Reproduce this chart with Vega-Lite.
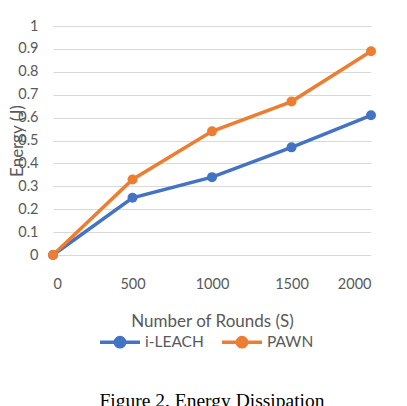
{
  "$schema": "https://vega.github.io/schema/vega-lite/v6.json",
  "width": 318,
  "height": 229,
  "autosize": "none",
  "padding": {"left": 53, "top": 26, "right": 36, "bottom": 151},
  "background": "white",
  "title": {
    "text": "Figure 2. Energy Dissipation",
    "orient": "bottom",
    "font": "Liberation Serif",
    "fontSize": 19.5,
    "fontWeight": "normal",
    "color": "black",
    "anchor": "middle",
    "baseline": "top",
    "offset": 38
  },
  "data": {
    "values": [
      {"rounds": 0, "energy": 0, "series": "i-LEACH"},
      {"rounds": 500, "energy": 0.25, "series": "i-LEACH"},
      {"rounds": 1000, "energy": 0.34, "series": "i-LEACH"},
      {"rounds": 1500, "energy": 0.47, "series": "i-LEACH"},
      {"rounds": 2000, "energy": 0.61, "series": "i-LEACH"},
      {"rounds": 0, "energy": 0, "series": "PAWN"},
      {"rounds": 500, "energy": 0.33, "series": "PAWN"},
      {"rounds": 1000, "energy": 0.54, "series": "PAWN"},
      {"rounds": 1500, "energy": 0.67, "series": "PAWN"},
      {"rounds": 2000, "energy": 0.89, "series": "PAWN"}
    ]
  },
  "mark": {"type": "line", "strokeWidth": 3.5, "point": {"size": 100, "filled": true}},
  "encoding": {
    "x": {
      "field": "rounds",
      "type": "quantitative",
      "title": "Number of Rounds (S)",
      "scale": {"domain": [0, 2000], "nice": false},
      "axis": {
        "values": [0, 500, 1000, 1500, 2000],
        "format": "d",
        "grid": false,
        "domain": false,
        "ticks": false,
        "labelPadding": 22,
        "titlePadding": 23
      }
    },
    "y": {
      "field": "energy",
      "type": "quantitative",
      "title": "Energy (J)",
      "scale": {"domain": [0, 1], "nice": false},
      "axis": {
        "values": [0, 0.1, 0.2, 0.3, 0.4, 0.5, 0.6, 0.7, 0.8, 0.9, 1],
        "format": "~g",
        "domain": false,
        "ticks": false,
        "labelPadding": 15,
        "titleX": -36,
        "titleBaseline": "middle"
      }
    },
    "color": {
      "field": "series",
      "type": "nominal",
      "scale": {"domain": ["i-LEACH", "PAWN"], "range": ["#4472C4", "#ED7D31"]},
      "legend": {
        "title": null,
        "orient": "none",
        "legendX": 45,
        "legendY": 294,
        "direction": "horizontal",
        "symbolType": "M-1,0H1M0.23,0A0.23,0.23,0,1,1,-0.23,0A0.23,0.23,0,1,1,0.23,0",
        "symbolStrokeWidth": 3.5,
        "symbolSize": 1600,
        "labelOffset": 3,
        "columnPadding": 11,
        "encode": {
          "symbols": {"update": {"fill": {"scale": "color", "field": "value"}}}
        }
      }
    }
  },
  "config": {
    "view": {"stroke": null},
    "font": "Lato",
    "axis": {
      "labelFont": "Lato",
      "labelFontSize": 14.5,
      "labelColor": "#595959",
      "titleFont": "Lato",
      "titleFontSize": 17,
      "titleFontWeight": "normal",
      "titleColor": "#595959",
      "gridColor": "#D9D9D9",
      "gridWidth": 1
    },
    "legend": {
      "labelFont": "Lato",
      "labelFontSize": 15.5,
      "labelColor": "#595959"
    }
  }
}
